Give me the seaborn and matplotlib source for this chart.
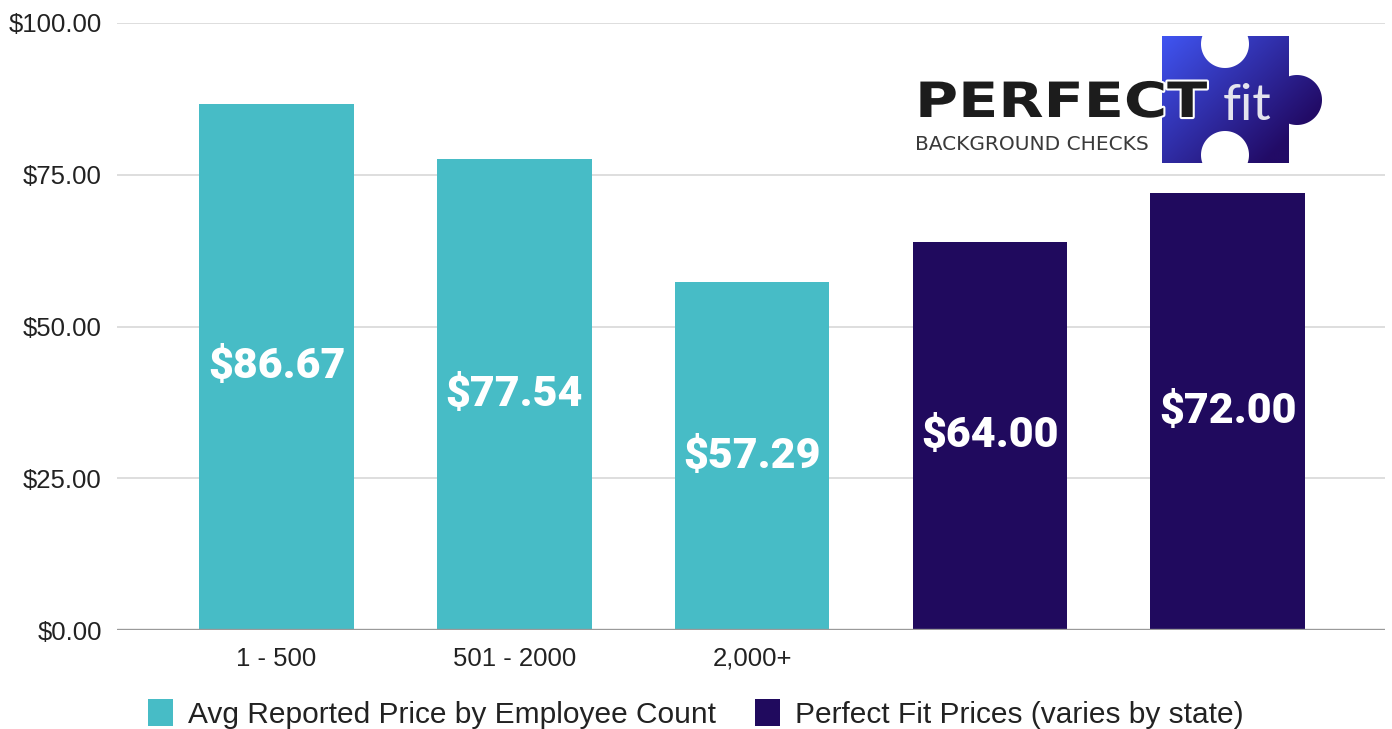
import numpy as np
import pandas as pd
import matplotlib
matplotlib.use("Agg")
import matplotlib.pyplot as plt
import matplotlib.colors as mcolors
import seaborn as sns
from matplotlib.path import Path
from matplotlib.patches import PathPatch
from matplotlib import patheffects
from matplotlib.transforms import Affine2D

# ---------------- data ----------------
categories = ["1 - 500", "501 - 2000", "2,000+", "Perfect Fit A", "Perfect Fit B"]
tick_labels = ["1 - 500", "501 - 2000", "2,000+", "", ""]
prices = [86.67, 77.54, 57.29, 64.00, 72.00]
series_names = ["Avg Reported Price by Employee Count", "Perfect Fit Prices (varies by state)"]
series = [series_names[0]] * 3 + [series_names[1]] * 2
colors = ["#47BCC6", "#200A5E"]
yticks = [0, 25, 50, 75, 100]

W, H = 1392, 729

sns.set_theme(style="white")
plt.rcParams["font.family"] = ["Liberation Sans", "DejaVu Sans"]

fig = plt.figure(figsize=(W / 100, H / 100), dpi=100)
ax = fig.add_axes([117 / W, 1 - 630 / H, (1385 - 117) / W, (630 - 23) / H])

df = pd.DataFrame({"cat": categories, "price": prices, "series": series})
sns.barplot(data=df, x="cat", y="price", hue="series", hue_order=series_names,
            order=categories, palette=colors, dodge=False, width=0.65,
            linewidth=0, saturation=1, ax=ax)

ax.set_xlim(-0.671, 4.662)
ax.set_ylim(0, 100)
ax.set_yticks(yticks)
ax.set_yticklabels([f"${v:.2f}" for v in yticks])
ax.set_xticks(range(len(categories)))
ax.set_xticklabels(tick_labels)
ax.tick_params(axis="y", length=0, pad=11, labelsize=18.5, labelcolor="#222222")
ax.tick_params(axis="x", length=0, pad=12, labelsize=18.5, labelcolor="#222222")
ax.set_xlabel("")
ax.set_ylabel("")
for s in ax.spines.values():
    s.set_visible(False)
ax.grid(axis="y", color="#dedede", linewidth=1.4)
ax.grid(axis="x", visible=False)
ax.set_axisbelow(True)
ax.axhline(0, color="#9a9a9a", linewidth=2.4, zorder=3)

for c in ax.containers:
    labs = ["" if np.isnan(v) else f"${v:.2f}" for v in c.datavalues]
    ax.bar_label(c, labels=labs, label_type="center", color="white",
                 fontsize=31, fontweight="black", family="Roboto")

handles, labels = ax.get_legend_handles_labels()
if ax.get_legend() is not None:
    ax.get_legend().remove()
fig.legend(handles, labels, loc="center", bbox_to_anchor=(0.5, 1 - 714 / H), ncol=2,
           frameon=False, fontsize=21.5, handlelength=0.85, handleheight=1.0,
           handletextpad=0.5, columnspacing=1.3, labelcolor="#222222")

# ---------------- logo ----------------
lax = fig.add_axes([0, 0, 1, 1], zorder=5)
lax.set_xlim(0, W)
lax.set_ylim(H, 0)
lax.axis("off")
lax.patch.set_alpha(0)


def arc(cx, cy, r, a0, a1, n=60):
    t = np.radians(np.linspace(a0, a1, n))
    return list(zip(cx + r * np.cos(t), cy + r * np.sin(t)))


pts = [(1162, 36)]
pts += arc(1225, 44, 24, 199.47, -19.47)
pts += [(1289, 36)]
pts += arc(1297, 100, 25, -108.66, 108.66)
pts += [(1289, 163)]
pts += arc(1225, 155, 24, 19.47, -199.47)
pts += [(1162, 163), (1162, 36)]
codes = [Path.MOVETO] + [Path.LINETO] * (len(pts) - 2) + [Path.CLOSEPOLY]
piece = PathPatch(Path(pts, codes), facecolor="none", edgecolor="none")
lax.add_patch(piece)

gx, gy = np.meshgrid(np.linspace(0, 1, 200), np.linspace(0, 1, 160))
tt = np.clip((gx * 0.55 + gy * 0.45) / 0.8, 0, 1)
c0 = np.array(mcolors.to_rgb("#4055F2"))
c1 = np.array(mcolors.to_rgb("#220B66"))
img = c0[None, None, :] * (1 - tt[..., None]) + c1[None, None, :] * tt[..., None]
im = lax.imshow(img, extent=(1162, 1322, 163, 36), origin="upper", aspect="auto",
                interpolation="bilinear", zorder=1)
im.set_clip_path(piece)
lax.set_xlim(0, W)
lax.set_ylim(H, 0)


class StretchFx(patheffects.AbstractPathEffect):
    def __init__(self, sx, x0, stroke_w=0.0, stroke_c="white"):
        super().__init__()
        self.sx, self.x0 = sx, x0
        self.stroke_w, self.stroke_c = stroke_w, stroke_c

    def draw_path(self, renderer, gc, tpath, affine, rgbFace=None):
        tr = affine + Affine2D().translate(-self.x0, 0).scale(self.sx, 1).translate(self.x0, 0)
        if self.stroke_w:
            gc0 = renderer.new_gc()
            gc0.copy_properties(gc)
            gc0.set_linewidth(self.stroke_w)
            gc0.set_foreground(self.stroke_c)
            gc0.set_joinstyle("round")
            renderer.draw_path(gc0, tpath, tr, mcolors.to_rgb(self.stroke_c))
            gc0.restore()
        renderer.draw_path(gc, tpath, tr, rgbFace)


lax.text(915, 117, "PERFECT", fontsize=35, fontweight="bold", family="DejaVu Sans",
         color="#1c1c1c", ha="left", va="baseline", zorder=3,
         path_effects=[StretchFx(1.21, 915, stroke_w=3)])
lax.text(1223, 120, "fit", fontsize=37, fontweight="normal", family="Lato",
         color="#e4e4ee", ha="left", va="baseline", zorder=3)
lax.text(915, 150, "BACKGROUND CHECKS", fontsize=14.5, family="DejaVu Sans",
         color="#3a3a3a", ha="left", va="baseline", zorder=3)

fig.savefig("out.png", dpi=100)
